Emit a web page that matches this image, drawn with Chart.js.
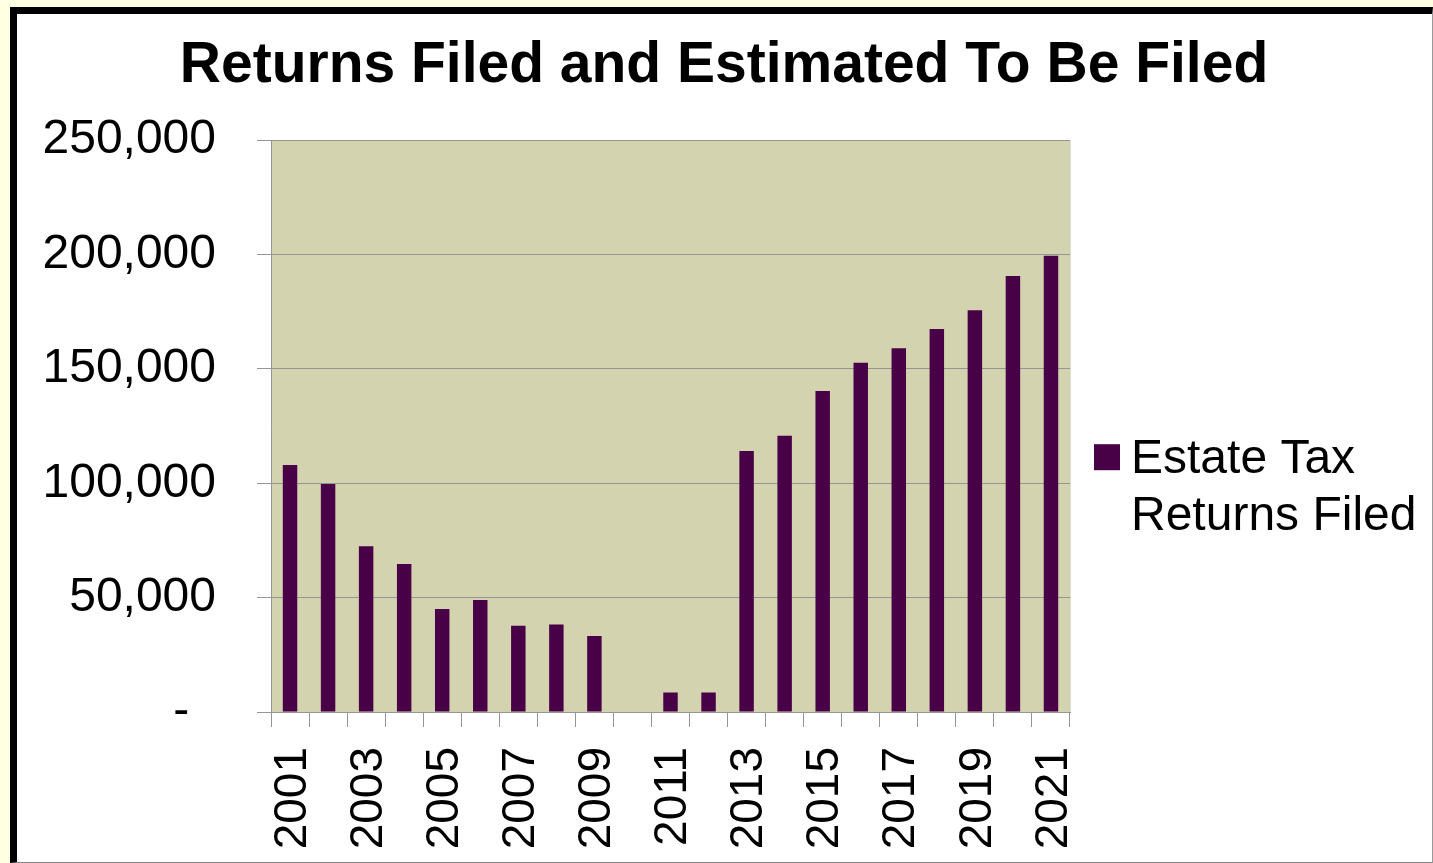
<!DOCTYPE html>
<html>
<head>
<meta charset="utf-8">
<script src="https://cdn.jsdelivr.net/npm/chart.js@4/dist/chart.umd.min.js"></script>
<style>
  html, body { margin: 0; padding: 0; }
  body { width: 1433px; height: 863px; background: #FFFFE1; position: relative; overflow: hidden; }
  #frame { position: absolute; left: 10px; top: 7px; width: 1423px; height: 856px; box-sizing: border-box;
           border-left: 7px solid #000; border-top: 7px solid #000; border-right: 1px solid #999; border-bottom: 1px solid #888;
           background: #fff; }
  #c { position: absolute; left: 0; top: 0; }
</style>
</head>
<body>
<div id="frame"></div>
<canvas id="c" width="1433" height="863"></canvas>
<script>
const TITLE = 'Returns Filed and Estimated To Be Filed';
const YEARS = ['2001','2002','2003','2004','2005','2006','2007','2008','2009','2010','2011',
               '2012','2013','2014','2015','2016','2017','2018','2019','2020','2021'];
const RETURNS_FILED = [108000, 99700, 72500, 64700, 45000, 49000, 37700, 38300, 33200, 0, 8500,
                       8500, 114100, 120800, 140400, 152700, 159000, 167400, 175700, 190600, 199500];
const SERIES_LABEL = 'Estate Tax Returns Filed';
const LEGEND_LINES = ['Estate Tax', 'Returns Filed'];
const Y_TICKS = [0, 50000, 100000, 150000, 200000, 250000];

const FONT = "'Liberation Sans', Arial, sans-serif";
const BAR_COLOR = '#480046';
const PLOT_BG = '#D3D3AF';
const GRID = '#959595';

const plotBg = {
  id: 'plotBg',
  beforeDraw(chart) {
    const a = chart.chartArea, ctx = chart.ctx;
    ctx.save();
    ctx.fillStyle = PLOT_BG;
    ctx.fillRect(a.left, a.top, a.right - a.left, a.bottom - a.top);
    ctx.strokeStyle = '#dcdcd0';
    ctx.lineWidth = 1;
    ctx.beginPath();
    ctx.moveTo(a.right + 0.5, a.top);
    ctx.lineTo(a.right + 0.5, a.bottom);
    ctx.stroke();
    ctx.restore();
  }
};

const sideLegend = {
  id: 'sideLegend',
  afterDraw(chart) {
    const a = chart.chartArea, ctx = chart.ctx;
    const ds = chart.data.datasets[0];
    ctx.save();
    ctx.fillStyle = ds.backgroundColor;
    ctx.fillRect(a.right + 24, a.top + 304, 26, 26);
    ctx.fillStyle = '#000';
    ctx.font = '48px ' + FONT;
    ctx.textAlign = 'left';
    ctx.textBaseline = 'alphabetic';
    LEGEND_LINES.forEach((t, i) => {
      ctx.fillText(t, a.right + 61, a.top + 333 + i * 57);
    });
    ctx.restore();
  }
};

new Chart(document.getElementById('c'), {
  type: 'bar',
  data: {
    labels: YEARS,
    datasets: [{
      label: SERIES_LABEL,
      data: RETURNS_FILED,
      backgroundColor: BAR_COLOR,
      borderWidth: 0,
      barPercentage: 0.38,
      categoryPercentage: 1.0,
      yAxisID: 'y'
    }]
  },
  options: {
    responsive: false,
    animation: false,
    devicePixelRatio: 1,
    layout: { padding: { left: 17, top: 14, right: 2, bottom: 1 } },
    plugins: {
      legend: { display: false },
      tooltip: { enabled: false },
      title: {
        display: true,
        text: TITLE,
        color: '#000',
        font: { family: FONT, size: 57, weight: 'bold' },
        padding: { top: 18, bottom: 39.8 }
      }
    },
    scales: {
      x: {
        type: 'category',
        offset: true,
        grid: { display: true, drawOnChartArea: false, drawTicks: true, tickLength: 15, color: GRID, offset: true },
        border: { display: true, color: GRID, width: 1 },
        ticks: {
          autoSkip: false, maxRotation: 90, minRotation: 90,
          color: '#000', font: { family: FONT, size: 46 }, padding: 20, labelOffset: 3,
          callback: (v, i) => (i % 2 === 0 ? YEARS[i] : '')
        },
        afterFit: s => { s.height = 150; }
      },
      y: {
        position: 'left',
        min: 0, max: 250000,
        afterBuildTicks: s => { s.ticks = Y_TICKS.map(v => ({ value: v })); },
        grid: { color: GRID, tickLength: 14, drawTicks: true },
        border: { display: true, color: GRID, width: 1 },
        ticks: {
          color: '#000', font: { family: FONT, size: 48 }, padding: 41,
          callback: v => (v === 0 ? '-  ' : Number(v).toLocaleString('en-US'))
        },
        afterFit: s => { s.width = 254; }
      },
      spacer: {
        position: 'right',
        display: true,
        grid: { display: false },
        border: { display: false },
        ticks: { display: false },
        afterFit: s => { s.width = 361; }
      }
    }
  },
  plugins: [plotBg, sideLegend]
});
</script>
</body>
</html>
